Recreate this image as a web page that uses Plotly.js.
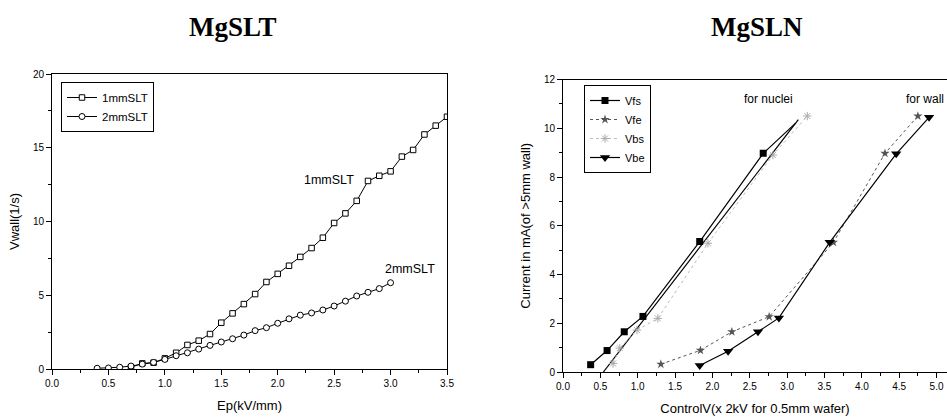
<!DOCTYPE html>
<html>
<head>
<meta charset="utf-8">
<script src="https://cdn.plot.ly/plotly-3.0.1.min.js"></script>
<style>html,body{margin:0;padding:0;background:#fff;}#chart{width:947px;height:417px;}</style>
</head>
<body>
<div id="chart"></div>
<script>
// ---- Left chart: MgSLT ----
const slt1X = [0.7, 0.8, 0.9, 1.0, 1.1, 1.2, 1.3, 1.4, 1.5, 1.6, 1.7, 1.8, 1.9, 2.0, 2.1, 2.2, 2.3, 2.4, 2.5, 2.6, 2.7, 2.8, 2.9, 3.0, 3.1, 3.2, 3.3, 3.4, 3.5];
const slt1Y = [0.12, 0.38, 0.43, 0.72, 1.1, 1.63, 1.92, 2.37, 3.14, 3.77, 4.4, 5.08, 5.9, 6.45, 7.0, 7.6, 8.2, 8.9, 9.9, 10.55, 11.4, 12.75, 13.1, 13.4, 14.4, 14.85, 15.9, 16.5, 17.1];
const slt2X = [0.4, 0.5, 0.6, 0.7, 0.8, 0.9, 1.0, 1.1, 1.2, 1.3, 1.4, 1.5, 1.6, 1.7, 1.8, 1.9, 2.0, 2.1, 2.2, 2.3, 2.4, 2.5, 2.6, 2.7, 2.8, 2.9, 3.0];
const slt2Y = [0.05, 0.07, 0.12, 0.2, 0.33, 0.45, 0.65, 0.9, 1.1, 1.35, 1.6, 1.83, 2.05, 2.3, 2.6, 2.8, 3.1, 3.4, 3.65, 3.8, 4.0, 4.27, 4.6, 4.95, 5.2, 5.45, 5.85];
const sltNames = ["1mmSLT", "2mmSLT"];

// ---- Right chart: MgSLN ----
const vfsX = [0.37, 0.59, 0.82, 1.07, 1.83, 2.68];
const vfsY = [0.3, 0.88, 1.65, 2.28, 5.35, 8.97];
const vfeX = [1.31, 1.84, 2.26, 2.76, 3.62, 4.31, 4.75];
const vfeY = [0.32, 0.89, 1.65, 2.27, 5.32, 8.97, 10.5];
const vbsX = [0.67, 0.76, 0.99, 1.27, 1.94, 2.81, 3.27];
const vbsY = [0.35, 0.98, 1.72, 2.2, 5.28, 8.9, 10.5];
const vbeX = [1.83, 2.21, 2.61, 2.89, 3.57, 4.46, 4.9];
const vbeY = [0.27, 0.85, 1.65, 2.22, 5.32, 8.95, 10.45];
const fitAX = [0.54, 3.15];
const fitAY = [0, 10.35];
const fitBX = [2.68, 3.11];
const fitBY = [8.97, 10.2];
const slnNames = ["Vfs", "Vfe", "Vbs", "Vbe"];

const F = "Liberation Sans, Arial, sans-serif";

const traces = [
  {x: slt1X, y: slt1Y, name: sltNames[0], xaxis: 'x', yaxis: 'y', legend: 'legend', mode: 'lines+markers',
   line: {color: '#000', width: 1}, marker: {symbol: 'square', size: 5.5, color: '#fff', line: {color: '#000', width: 1}}},
  {x: slt2X, y: slt2Y, name: sltNames[1], xaxis: 'x', yaxis: 'y', legend: 'legend', mode: 'lines+markers',
   line: {color: '#000', width: 1}, marker: {symbol: 'circle', size: 6, color: '#fff', line: {color: '#000', width: 1}}},
  {x: fitAX, y: fitAY, xaxis: 'x2', yaxis: 'y2', mode: 'lines', showlegend: false, line: {color: '#000', width: 1.2}},
  {x: fitBX, y: fitBY, xaxis: 'x2', yaxis: 'y2', mode: 'lines', showlegend: false, line: {color: '#000', width: 1.2}},
  {x: vfsX, y: vfsY, name: slnNames[0], xaxis: 'x2', yaxis: 'y2', legend: 'legend2', mode: 'lines+markers',
   line: {color: '#000', width: 1.2}, marker: {symbol: 'square', size: 7, color: '#000'}},
  {x: vfeX, y: vfeY, name: slnNames[1], xaxis: 'x2', yaxis: 'y2', legend: 'legend2', mode: 'lines+markers',
   line: {color: '#555', width: 1, dash: 'dot'}, marker: {symbol: 'star', size: 7, color: '#555'}},
  {x: vbsX, y: vbsY, name: slnNames[2], xaxis: 'x2', yaxis: 'y2', legend: 'legend2', mode: 'lines+markers',
   line: {color: '#bbb', width: 1, dash: 'dot'}, marker: {symbol: 'asterisk-open', size: 7, color: '#aaa', line: {color: '#aaa', width: 1}}},
  {x: vbeX, y: vbeY, name: slnNames[3], xaxis: 'x2', yaxis: 'y2', legend: 'legend2', mode: 'lines+markers',
   line: {color: '#000', width: 1.2}, marker: {symbol: 'triangle-down', size: 9, color: '#000'}}
];

const axisCommon = {
  showline: true, linecolor: '#000', linewidth: 1, mirror: true, showgrid: false, zeroline: false,
  ticks: 'outside', ticklen: 5, tickcolor: '#000', tickwidth: 1,
  tickfont: {family: F, size: 10, color: '#000'}
};
const titleFont = {family: F, size: 13, color: '#000'};

const layout = {
  width: 947, height: 417,
  margin: {l: 0, r: 0, t: 0, b: 0},
  paper_bgcolor: '#fff', plot_bgcolor: '#fff',
  showlegend: true,
  xaxis: Object.assign({}, axisCommon, {
    domain: [52/947, 447/947], range: [0, 3.5], dtick: 0.5, tick0: 0, tickformat: '.1f', anchor: 'y',
    minor: {dtick: 0.25, ticks: 'outside', ticklen: 3, tickcolor: '#000'},
    title: {text: 'Ep(kV/mm)', font: titleFont, standoff: 12}
  }),
  yaxis: Object.assign({}, axisCommon, {
    domain: [48/417, 343/417], range: [0, 20], dtick: 5, tick0: 0, anchor: 'x',
    minor: {dtick: 2.5, ticks: 'outside', ticklen: 3, tickcolor: '#000'},
    title: {text: 'Vwall(1/s)', font: titleFont, standoff: 10}
  }),
  xaxis2: Object.assign({}, axisCommon, {
    domain: [563/947, 1], range: [0, 5.14], dtick: 0.5, tick0: 0, tickformat: '.1f', anchor: 'y2',
    minor: {dtick: 0.25, ticks: 'outside', ticklen: 3, tickcolor: '#000'},
    title: {text: 'ControlV(x 2kV for 0.5mm wafer)', font: titleFont, standoff: 12}
  }),
  yaxis2: Object.assign({}, axisCommon, {
    domain: [45/417, 337.5/417], range: [0, 12], dtick: 2, tick0: 0, anchor: 'x2',
    minor: {dtick: 1, ticks: 'outside', ticklen: 3, tickcolor: '#000'},
    title: {text: 'Current in mA(of >5mm wall)', font: titleFont, standoff: 10}
  }),
  legend: {
    x: 61/947, y: 1 - 82/417, xanchor: 'left', yanchor: 'top',
    bordercolor: '#000', borderwidth: 1, bgcolor: '#fff',
    font: {family: F, size: 11.5, color: '#000'}, itemwidth: 30, tracegroupgap: 0
  },
  legend2: {
    x: 584/947, y: 1 - 85/417, xanchor: 'left', yanchor: 'top',
    bordercolor: '#000', borderwidth: 1, bgcolor: '#fff',
    font: {family: F, size: 11, color: '#000'}, itemwidth: 30, tracegroupgap: 0
  },
  annotations: [
    {text: '<b>MgSLT</b>', xref: 'paper', yref: 'paper', x: 233/947, y: 1 - 27/417, xanchor: 'center', yanchor: 'middle',
     showarrow: false, font: {family: 'Liberation Serif, Times New Roman, serif', size: 27, color: '#000'}},
    {text: '<b>MgSLN</b>', xref: 'paper', yref: 'paper', x: 757/947, y: 1 - 27/417, xanchor: 'center', yanchor: 'middle',
     showarrow: false, font: {family: 'Liberation Serif, Times New Roman, serif', size: 27, color: '#000'}},
    {text: '1mmSLT', xref: 'x', yref: 'y', x: 2.45, y: 12.8, xanchor: 'center', yanchor: 'middle', showarrow: false,
     font: {family: F, size: 12.5, color: '#000'}},
    {text: '2mmSLT', xref: 'x', yref: 'y', x: 3.17, y: 6.8, xanchor: 'center', yanchor: 'middle', showarrow: false,
     font: {family: F, size: 12.5, color: '#000'}},
    {text: 'for nuclei', xref: 'x2', yref: 'y2', x: 2.75, y: 11.2, xanchor: 'center', yanchor: 'middle', showarrow: false,
     font: {family: F, size: 12, color: '#000'}},
    {text: 'for wall', xref: 'x2', yref: 'y2', x: 4.85, y: 11.2, xanchor: 'center', yanchor: 'middle', showarrow: false,
     font: {family: F, size: 12, color: '#000'}}
  ]
};

Plotly.newPlot('chart', traces, layout, {displayModeBar: false, staticPlot: true});
</script>
</body>
</html>
